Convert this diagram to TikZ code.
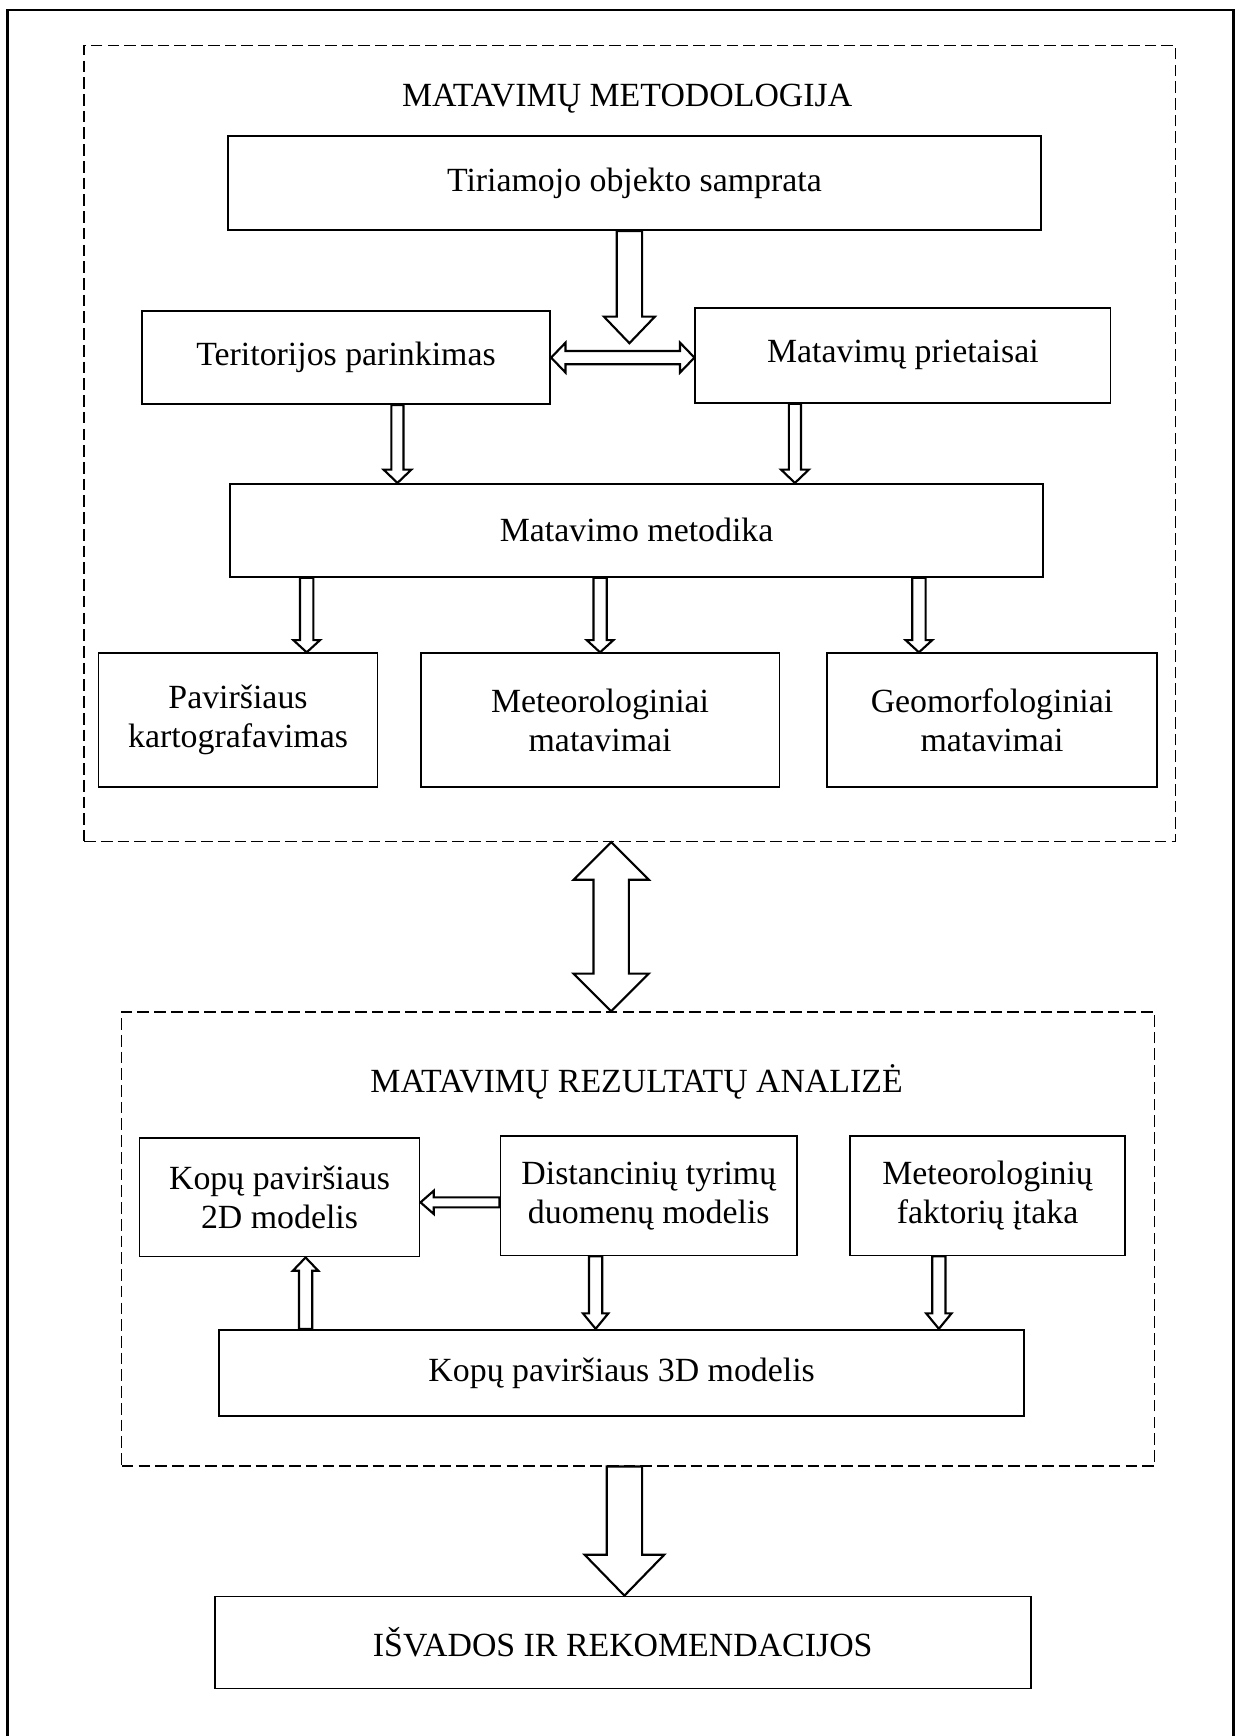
\documentclass[tikz,border=0pt]{standalone}
\usepackage{fontspec}
\setmainfont{Liberation Serif}
\usetikzlibrary{calc,fit}
\newcommand\fs{\fontsize{17.4}{20}\selectfont}
\tikzset{
  box/.style={draw, line width=0.9pt, inner sep=0pt},
  lbl/.style={font=\fs, align=center, inner sep=0pt},
  dbox/.style={draw, line width=0.7pt, dash pattern=on 6pt off 2.6pt, inner sep=0pt},
  ttl/.style={font=\fs, anchor=base, inner sep=0pt},
  blk/.style={draw, fill=white, line width=1.1pt, line join=miter},
}
% down block arrow: start, tip, shaft half, head half, head length
\newcommand\darr[5]{\draw[blk] ($(#1)+(-#3,0)$) -- ($(#2)+(-#3,-#5)$) -- ($(#2)+(-#4,-#5)$) -- (#2) -- ($(#2)+(#4,-#5)$) -- ($(#2)+(#3,-#5)$) -- ($(#1)+(#3,0)$) -- cycle;}
% up block arrow
\newcommand\uarr[5]{\draw[blk] ($(#1)+(-#3,0)$) -- ($(#2)+(-#3,#5)$) -- ($(#2)+(-#4,#5)$) -- (#2) -- ($(#2)+(#4,#5)$) -- ($(#2)+(#3,#5)$) -- ($(#1)+(#3,0)$) -- cycle;}
% left block arrow: start (right), tip (left)
\newcommand\larr[5]{\draw[blk] ($(#1)+(0,-#3)$) -- ($(#2)+(#5,-#3)$) -- ($(#2)+(#5,-#4)$) -- (#2) -- ($(#2)+(#5,#4)$) -- ($(#2)+(#5,#3)$) -- ($(#1)+(0,#3)$) -- cycle;}
% horizontal double block arrow: left tip, right tip
\newcommand\hdarr[5]{\draw[blk] (#1) -- ($(#1)+(#5,-#4)$) -- ($(#1)+(#5,-#3)$) -- ($(#2)+(-#5,-#3)$) -- ($(#2)+(-#5,-#4)$) -- (#2) -- ($(#2)+(-#5,#4)$) -- ($(#2)+(-#5,#3)$) -- ($(#1)+(#5,#3)$) -- ($(#1)+(#5,#4)$) -- cycle;}
% vertical double block arrow: top tip, bottom tip
\newcommand\vdarr[5]{\draw[blk] (#1) -- ($(#1)+(#4,#5)$) -- ($(#1)+(#3,#5)$) -- ($(#2)+(#3,-#5)$) -- ($(#2)+(#4,-#5)$) -- (#2) -- ($(#2)+(-#4,-#5)$) -- ($(#2)+(-#3,-#5)$) -- ($(#1)+(-#3,#5)$) -- ($(#1)+(-#4,#5)$) -- cycle;}
\begin{document}
\begin{tikzpicture}[x=0.02cm,y=-0.02cm]
\useasboundingbox (0,0) rectangle (1121,1568);
% outer frame (bottom edge lies outside the page)
\draw[line width=1.5pt] (7,1600) -- (7,9) -- (1114,9) -- (1114,1600);

% dashed groups
\node[dbox, fit={(76,41) (1062,760)}] (dash1) {};
\node[dbox, fit={(110,914) (1043,1324)}] (dash2) {};

% titles
\node[ttl] (t1) at (566.5,96) {MATAVIMŲ METODOLOGIJA};
\node[ttl] (t2) at (575,987) {MATAVIMŲ REZULTATŲ ANALIZĖ};

% upper boxes
\node[box, fit={(206,123) (940,208)}, label={[lbl]center:Tiriamojo objekto samprata}] (tir) {};
\node[box, fit={(128,281) (497,365)}, label={[lbl]center:Teritorijos parinkimas}] (ter) {};
\node[box, fit={(628,278) (1003,364)}, label={[lbl]center:Matavimų prietaisai}] (mpr) {};
\node[box, fit={(208,437) (942,521)}, label={[lbl]center:Matavimo metodika}] (met) {};
\node[box, fit={(89,590) (341,711)}, label={[lbl]center:Paviršiaus\\kartografavimas}] (pav) {};
\node[box, fit={(380,590) (704,711)}, label={[lbl]center:Meteorologiniai\\matavimai}] (mmt) {};
\node[box, fit={(747,590) (1045,711)}, label={[lbl]center:Geomorfologiniai\\matavimai}] (geo) {};

% lower boxes
\node[box, fit={(126,1028) (379,1135)}, label={[lbl]center:Kopų paviršiaus\\2D modelis}] (k2d) {};
\node[box, fit={(452,1026) (720,1134)}, label={[lbl]center:Distancinių tyrimų\\duomenų modelis}] (dis) {};
\node[box, fit={(768,1026) (1016,1134)}, label={[lbl]center:Meteorologinių\\faktorių įtaka}] (mfi) {};
\node[box, fit={(198,1201) (925,1279)}, label={[lbl]center:Kopų paviršiaus 3D modelis}] (k3d) {};
\node[box, fit={(194,1442) (931,1525)}, label={[lbl]center:IŠVADOS IR REKOMENDACIJOS}] (isv) {};

% helper columns / rows
\coordinate (c1) at (568.5,0);
\coordinate (a1t) at (568.5,310);
\coordinate (c3) at (359,0);
\coordinate (c4) at (718,0);
\coordinate (c5) at (277,0);
\coordinate (c6) at (542,0);
\coordinate (c7) at (830,0);
\coordinate (c8) at (552,0);
\coordinate (r9) at (0,1086);
\coordinate (c10) at (538,0);
\coordinate (c11) at (848,0);
\coordinate (c12) at (276,0);
\coordinate (c13) at (564,0);

% connectors
\darr{tir.south -| c1}{a1t}{11.5}{23}{24}
\hdarr{ter.east}{mpr.west |- ter.east}{6}{13.5}{13}
\darr{ter.south -| c3}{met.north -| c3}{5.5}{12.5}{12}
\darr{mpr.south -| c4}{met.north -| c4}{5.5}{12.5}{12}
\darr{met.south -| c5}{pav.north -| c5}{6}{12}{11}
\darr{met.south -| c6}{mmt.north -| c6}{6}{12}{11}
\darr{met.south -| c7}{geo.north -| c7}{6}{12}{11}
\vdarr{dash1.south -| c8}{dash2.north -| c8}{16}{34}{34}
\larr{dis.west |- r9}{k2d.east |- r9}{4.5}{10.5}{12}
\darr{dis.south -| c10}{k3d.north -| c10}{6}{11.5}{14}
\darr{mfi.south -| c11}{k3d.north -| c11}{6}{11.5}{14}
\uarr{k3d.north -| c12}{k2d.south -| c12}{6}{11.5}{12}
\darr{dash2.south -| c13}{isv.north -| c13}{16}{36}{37}
\end{tikzpicture}
\end{document}
